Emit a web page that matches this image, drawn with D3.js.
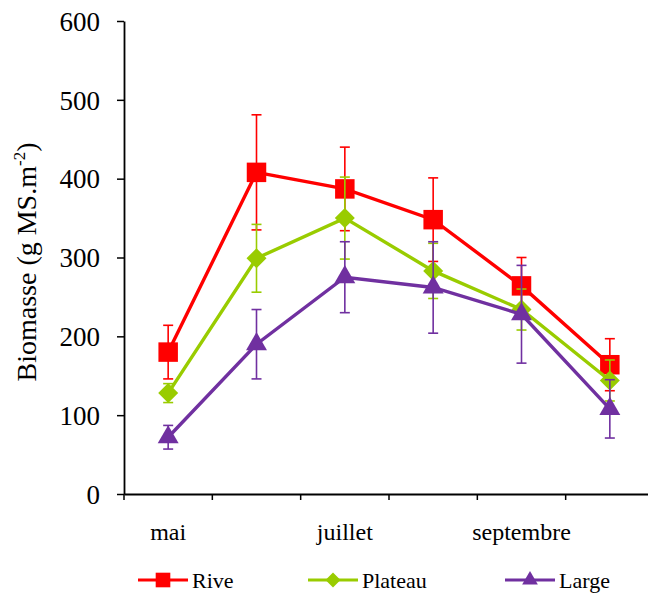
<!DOCTYPE html>
<html>
<head>
<meta charset="utf-8">
<script src="https://cdn.jsdelivr.net/npm/d3@7/dist/d3.min.js"></script>
</head>
<body>
<script>
// Sampling dates (only some carry a label)
const dates = ["d1", "d2", "d3", "d4", "d5", "d6"];
const dateLabels = ["mai", "", "juillet", "", "septembre", ""];

// Mean biomass (g MS.m-2) per site and its error
const riveValues    = [180, 408, 387, 348, 264, 164];
const riveErrors    = [34, 73, 53, 53, 36, 33];
const plateauValues = [128, 299, 350, 283, 234, 144];
const plateauErrors = [12, 43, 52, 35, 26, 26];
const largeValues   = [72, 190, 275, 262, 228, 108];
const largeErrors   = [15, 44, 45, 58, 62, 37];

const seriesNames  = ["Rive", "Plateau", "Large"];
const seriesColors = ["#ff0000", "#99cc00", "#7030a0"];
const seriesShapes = ["square", "diamond", "triangle"];
const yTicks = [0, 100, 200, 300, 400, 500, 600];

const FONT = "Times New Roman";
const W = 648, H = 595;
d3.select("body").style("margin", "0px");
const svg = d3.select("body").append("svg")
  .attr("width", W).attr("height", H)
  .attr("font-family", FONT)
  .style("display", "block");

// every label gets the serif face both as attribute and as inline style
function serif(sel, size) {
  return sel.attr("font-family", FONT).attr("font-size", size)
    .style("font-family", "'Times New Roman', 'Liberation Serif', serif")
    .style("font-size", size + "px");
}

const x = d3.scaleBand().domain(dates).range([124, 654]);
const y = d3.scaleLinear().domain([0, 600]).range([494, 21]);

const series = seriesNames.map((name, i) => ({
  name,
  color: seriesColors[i],
  shape: seriesShapes[i],
  values: [riveValues, plateauValues, largeValues][i],
  errors: [riveErrors, plateauErrors, largeErrors][i]
}));

// Axes
const yAxis = svg.append("g")
  .attr("transform", `translate(${x.range()[0]},0)`)
  .call(d3.axisLeft(y).tickValues(yTicks).tickSize(7).tickPadding(17).tickSizeOuter(0));
yAxis.attr("font-family", FONT).attr("font-size", null);
yAxis.select(".domain").attr("stroke", "#000").attr("stroke-width", 1.8);
yAxis.selectAll(".tick line").attr("stroke", "#000").attr("stroke-width", 1.5);
serif(yAxis.selectAll(".tick text"), 27).attr("dy", "0.34em").attr("fill", "#000");

const xAxis = svg.append("g")
  .attr("transform", `translate(0,${y(0)})`)
  .call(d3.axisBottom(x).tickSize(0).tickFormat((d, i) => dateLabels[i]).tickPadding(29));
xAxis.attr("font-family", FONT).attr("font-size", null);
xAxis.select(".domain").attr("stroke", "#000").attr("stroke-width", 1.8);
serif(xAxis.selectAll(".tick text"), 24).attr("fill", "#000");

// Ticks at category boundaries
const bounds = dates.map(d => x(d)).concat([x.range()[1]]);
svg.append("g").selectAll("line").data(bounds).join("line")
  .attr("x1", d => d).attr("x2", d => d)
  .attr("y1", y(0)).attr("y2", y(0) + 6)
  .attr("stroke", "#000").attr("stroke-width", 1.5);

// Y axis title
const title = serif(svg.append("text"), 28)
  .attr("transform", `translate(36,262) rotate(-90)`)
  .attr("text-anchor", "middle")
  .attr("fill", "#000");
title.append("tspan").text("Biomasse (g MS.m");
serif(title.append("tspan"), 17).attr("dy", -11).text("-2");
serif(title.append("tspan"), 28).attr("dy", 11).text(")");

const cx = d => x(d) + x.bandwidth() / 2;

function symbolPath(shape, k) {
  if (shape === "square") return d3.symbol(d3.symbolSquare, 380 * k * k)();
  if (shape === "diamond") { const r = 10 * k; return `M0,${-r}L${r},0L0,${r}L${-r},0Z`; }
  return d3.symbol(d3.symbolTriangle, 190 * k * k)();
}

const line = d3.line().x((v, i) => cx(dates[i])).y(v => y(v));

series.forEach(s => {
  const g = svg.append("g");
  // error bars
  const eb = g.append("g").attr("stroke", s.color).attr("stroke-width", 1.6);
  s.values.forEach((v, i) => {
    const xc = cx(dates[i]);
    const hi = y(v + s.errors[i]), lo = y(v - s.errors[i]);
    eb.append("line").attr("x1", xc).attr("x2", xc).attr("y1", hi).attr("y2", lo);
    eb.append("line").attr("x1", xc - 5).attr("x2", xc + 5).attr("y1", hi).attr("y2", hi);
    eb.append("line").attr("x1", xc - 5).attr("x2", xc + 5).attr("y1", lo).attr("y2", lo);
  });
  g.append("path").datum(s.values)
    .attr("d", line).attr("fill", "none")
    .attr("stroke", s.color).attr("stroke-width", 3.4);
  g.selectAll(".pt").data(s.values).join("path")
    .attr("class", "pt")
    .attr("transform", (v, i) => `translate(${cx(dates[i])},${y(v)})`)
    .attr("d", symbolPath(s.shape, 1))
    .attr("fill", s.color);
});

// Legend
const legendX = [138, 308, 505];
const legendY = 580;
series.forEach((s, i) => {
  const lg = svg.append("g").attr("transform", `translate(${legendX[i]},${legendY})`);
  lg.append("line").attr("x1", 0).attr("x2", 50).attr("y1", 0).attr("y2", 0)
    .attr("stroke", s.color).attr("stroke-width", 3.2);
  lg.append("path").attr("transform", "translate(25,0)")
    .attr("d", symbolPath(s.shape, 0.75))
    .attr("fill", s.color);
  serif(lg.append("text"), 22).attr("x", 54).attr("y", 8)
    .attr("fill", "#000").text(s.name);
});
</script>
</body>
</html>
